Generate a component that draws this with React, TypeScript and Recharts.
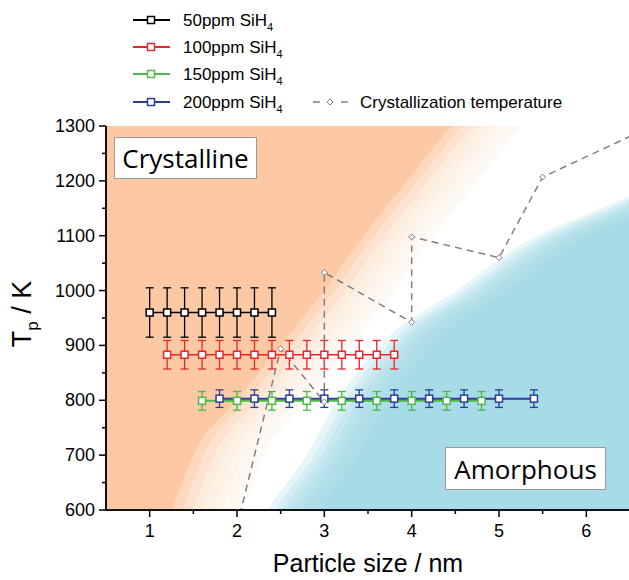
import React from "react";
import { Area, ComposedChart, ErrorBar, Line, XAxis, YAxis } from "recharts";

// particle size (nm) / peak temperature (K) / error (K)
const sizes50 = [1.0, 1.2, 1.4, 1.6, 1.8, 2.0, 2.2, 2.4];
const temps50 = [960, 960, 960, 960, 960, 960, 960, 960];
const errs50 = [45, 45, 45, 45, 45, 45, 45, 45];

const sizes100 = [1.2, 1.4, 1.6, 1.8, 2.0, 2.2, 2.4, 2.6, 2.8, 3.0, 3.2, 3.4, 3.6, 3.8];
const temps100 = [883, 883, 883, 883, 883, 883, 883, 883, 883, 883, 883, 883, 883, 883];
const errs100 = [26, 26, 26, 26, 26, 26, 26, 26, 26, 26, 26, 26, 26, 26];

const sizes150 = [1.6, 2.0, 2.4, 2.8, 3.2, 3.6, 4.0, 4.4, 4.8];
const temps150 = [799, 799, 799, 799, 799, 799, 799, 799, 799];
const errs150 = [17, 17, 17, 17, 17, 17, 17, 17, 17];

const sizes200 = [1.8, 2.2, 2.6, 3.0, 3.4, 3.8, 4.2, 4.6, 5.0, 5.4];
const temps200 = [803, 803, 803, 803, 803, 803, 803, 803, 803, 803];
const errs200 = [16, 16, 16, 16, 16, 16, 16, 16, 16, 16];

const crystSizes = [2.0, 2.5, 3.0, 3.0, 4.0, 4.0, 5.0, 5.5, 7.0];
const crystTemps = [570, 894, 797, 1033, 942, 1098, 1060, 1207, 1318];

// edges of the shaded regions (middle of the soft transition)
const whiteEdgeSizes = [0.0, 1.4, 1.7, 1.95, 2.45, 2.95, 3.45, 3.9, 4.4, 4.9, 5.4, 7.5];
const whiteEdgeTemps = [300, 500, 600, 700, 800, 900, 1000, 1100, 1200, 1300, 1380, 1800];
const blueEdgeSizes = [1.8, 2.3, 2.65, 3.1, 3.45, 4.0, 4.78, 5.55, 6.5, 7.5];
const blueEdgeTemps = [300, 500, 600, 700, 800, 910, 996, 1083, 1152, 1220];

// shifts (nm) used to fake the soft edge with stacked translucent layers
const whiteSteps = [-0.45, -0.33, -0.21, -0.1, 0.01, 0.12, 0.24, 0.36];
const blueSteps = [-0.3, -0.21, -0.13, -0.05, 0.03, 0.11, 0.2, 0.29];

const xTicks = [1, 1.5, 2, 2.5, 3, 3.5, 4, 4.5, 5, 5.5, 6];
const yTicks = [600, 650, 700, 750, 800, 850, 900, 950, 1000, 1050, 1100, 1150, 1200, 1250, 1300];

const toPoints = (xs: number[], ys: number[], es?: number[]) =>
  xs.map((x, i) => ({ x, y: ys[i], err: es ? es[i] : 0 }));

const series = [
  { key: "s50", label: "50ppm SiH", data: toPoints(sizes50, temps50, errs50) },
  { key: "s100", label: "100ppm SiH", data: toPoints(sizes100, temps100, errs100) },
  { key: "s150", label: "150ppm SiH", data: toPoints(sizes150, temps150, errs150) },
  { key: "s200", label: "200ppm SiH", data: toPoints(sizes200, temps200, errs200) },
];

const colors: Record<string, string> = {
  s50: "#000000",
  s100: "#e8262b",
  s150: "#4db848",
  s200: "#2e3c9c",
};
const widths: Record<string, number> = { s50: 1.3, s100: 1.3, s150: 2, s200: 2 };

const crystData = toPoints(crystSizes, crystTemps);
const fullCover = toPoints([0, 7.5], [2000, 2000]);
const shifted = (xs: number[], ys: number[], d: number) => toPoints(xs.map((x) => x + d), ys);

const ORANGE = "#fcc9a4";
const BLUE = "#a6dbe7";
const GREY = "#808080";
const FONT = "'Liberation Sans', Arial, sans-serif";

const squareDot = (color: string) => (props: any) => {
  const { cx, cy, index } = props;
  if (cx == null || cy == null) return <g key={index} />;
  return (
    <rect key={index} x={cx - 3.5} y={cy - 3.5} width={7} height={7} fill="#fff" stroke={color} strokeWidth={1.5} />
  );
};

const diamondDot = (props: any) => {
  const { cx, cy, index } = props;
  if (cx == null || cy == null) return <g key={index} />;
  return (
    <path
      key={index}
      d={`M${cx},${cy - 3} L${cx + 3},${cy} L${cx},${cy + 3} L${cx - 3},${cy} Z`}
      fill="#fff"
      stroke={GREY}
      strokeWidth={1}
    />
  );
};

const YTick = (props: any) => {
  const { x, y, payload } = props;
  const major = payload.value % 100 === 0;
  return (
    <g>
      <line x1={x - (major ? 7 : 4)} x2={x} y1={y} y2={y} stroke="#000" strokeWidth={1.5} />
      {major && (
        <text x={x - 11} y={y + 6} textAnchor="end" fontSize={18} fontFamily={FONT} fill="#000">
          {payload.value}
        </text>
      )}
    </g>
  );
};

const XTick = (props: any) => {
  const { x, y, payload } = props;
  const major = Number.isInteger(payload.value);
  return (
    <g>
      <line x1={x} x2={x} y1={y} y2={y + (major ? 7 : 4)} stroke="#000" strokeWidth={1.5} />
      {major && (
        <text x={x} y={y + 27} textAnchor="middle" fontSize={18} fontFamily={FONT} fill="#000">
          {payload.value}
        </text>
      )}
    </g>
  );
};

const YTitle = (props: any) => {
  const vb = props.viewBox;
  const cx = vb.x + 31;
  const cy = vb.y + vb.height / 2 - 4;
  return (
    <text
      transform={`translate(${cx},${cy}) rotate(-90)`}
      textAnchor="middle"
      fontSize={27}
      fontFamily={FONT}
      fill="#000"
    >
      T
      <tspan fontSize={17} dy={7}>
        p
      </tspan>
      <tspan dy={-7}> / K</tspan>
    </text>
  );
};

const XTitle = (props: any) => {
  const vb = props.viewBox;
  return (
    <text x={vb.x + vb.width / 2} y={572} textAnchor="middle" fontSize={25} fontFamily={FONT} fill="#000">
      Particle size / nm
    </text>
  );
};

function ChartLegend() {
  const rows = [20, 47, 74, 102];
  return (
    <svg width={629} height={120} style={{ position: "absolute", left: 0, top: 0 }}>
      {series.map((s, i) => (
        <g key={s.key}>
          <line x1={133} x2={170} y1={rows[i]} y2={rows[i]} stroke={colors[s.key]} strokeWidth={2} />
          <rect x={147.5} y={rows[i] - 3.5} width={7} height={7} fill="#fff" stroke={colors[s.key]} strokeWidth={1.5} />
          <text x={183} y={rows[i] + 6} fontSize={17} fontFamily={FONT} fill="#000">
            {s.label}
            <tspan fontSize={11} dy={5}>
              4
            </tspan>
          </text>
        </g>
      ))}
      <line x1={313} x2={320} y1={rows[3]} y2={rows[3]} stroke={GREY} strokeWidth={1.5} />
      <line x1={341} x2={348} y1={rows[3]} y2={rows[3]} stroke={GREY} strokeWidth={1.5} />
      <path
        d={`M330,${rows[3] - 3} L333,${rows[3]} L330,${rows[3] + 3} L327,${rows[3]} Z`}
        fill="#fff"
        stroke={GREY}
        strokeWidth={1}
      />
      <text x={360} y={rows[3] + 6} fontSize={17} fontFamily={FONT} fill="#000">
        Crystallization temperature
      </text>
    </svg>
  );
}

const boxStyle: React.CSSProperties = {
  position: "absolute",
  background: "#fff",
  border: "1px solid #9a9a9a",
  fontFamily: "'Open Sans', 'Noto Sans', sans-serif",
  fontSize: 26,
  color: "#000",
  display: "flex",
  alignItems: "center",
  justifyContent: "center",
  boxSizing: "border-box",
};

const bgArea = (key: string, data: any[], fill: string, opacity: number) => (
  <Area
    key={key}
    data={data}
    dataKey="y"
    type="monotone"
    baseValue={0}
    fill={fill}
    fillOpacity={opacity}
    stroke="none"
    dot={false}
    activeDot={false}
    legendType="none"
    isAnimationActive={false}
  />
);

export default function App() {
  return (
    <div
      style={{
        position: "fixed",
        left: 0,
        top: 0,
        width: 629,
        height: 580,
        overflow: "hidden",
        background: "#fff",
      }}
    >
      <ComposedChart width={640} height={580} margin={{ top: 126, right: 10, bottom: 0, left: 0 }}>
        <XAxis
          type="number"
          dataKey="x"
          domain={[0.5, 6.5]}
          allowDataOverflow
          ticks={xTicks}
          interval={0}
          tick={<XTick />}
          tickLine={false}
          tickSize={0}
          tickMargin={0}
          height={70}
          axisLine={{ stroke: "#111", strokeWidth: 2 }}
          label={<XTitle />}
        />
        <XAxis
          xAxisId="top"
          orientation="top"
          type="number"
          domain={[0.5, 6.5]}
          allowDataOverflow
          tick={false}
          tickLine={false}
          height={0}
          axisLine={{ stroke: "#111", strokeWidth: 2 }}
        />
        <YAxis
          type="number"
          domain={[600, 1300]}
          allowDataOverflow
          ticks={yTicks}
          interval={0}
          tick={<YTick />}
          tickLine={false}
          tickSize={0}
          tickMargin={0}
          width={106}
          axisLine={{ stroke: "#111", strokeWidth: 2 }}
          label={<YTitle />}
        />
        {bgArea("orange", fullCover, ORANGE, 1)}
        {whiteSteps.map((d, i) =>
          bgArea(`white${i}`, shifted(whiteEdgeSizes, whiteEdgeTemps, d), "#ffffff", i === whiteSteps.length - 1 ? 1 : 0.28)
        )}
        {blueSteps.map((d, i) =>
          bgArea(`blue${i}`, shifted(blueEdgeSizes, blueEdgeTemps, d), BLUE, i === blueSteps.length - 1 ? 1 : 0.28)
        )}
        {series.map((s) => (
          <Line
            key={s.key}
            data={s.data}
            dataKey="y"
            type="linear"
            stroke={colors[s.key]}
            strokeWidth={widths[s.key]}
            dot={squareDot(colors[s.key])}
            activeDot={false}
            isAnimationActive={false}
          >
            <ErrorBar dataKey="err" direction="y" width={4} stroke={colors[s.key]} strokeWidth={1.3} />
          </Line>
        ))}
        <Line
          data={crystData}
          dataKey="y"
          type="linear"
          stroke={GREY}
          strokeWidth={1.5}
          strokeDasharray="7 5"
          dot={diamondDot}
          activeDot={false}
          isAnimationActive={false}
        />
      </ComposedChart>
      <ChartLegend />
      <div style={{ ...boxStyle, left: 114, top: 137, width: 143, height: 42 }}>Crystalline</div>
      <div style={{ ...boxStyle, left: 445, top: 447, width: 161, height: 43 }}>Amorphous</div>
    </div>
  );
}
